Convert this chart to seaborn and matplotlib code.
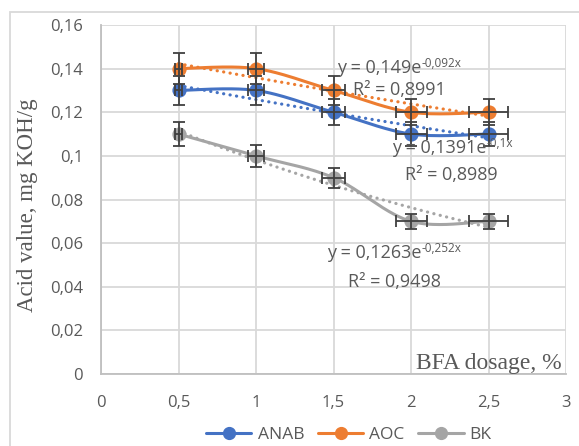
import numpy as np
import pandas as pd
import matplotlib.pyplot as plt
import seaborn as sns
from matplotlib.patches import Rectangle
from matplotlib.lines import Line2D

# data
dosage = [0.5, 1.0, 1.5, 2.0, 2.5]
anab = [0.13, 0.13, 0.12, 0.11, 0.11]
aoc = [0.14, 0.14, 0.13, 0.12, 0.12]
bk = [0.11, 0.10, 0.09, 0.07, 0.07]
names = ['ANAB', 'AOC', 'BK']
colors = ['#4472C4', '#ED7D31', '#A5A5A5']
err_pct = 0.05  # 5% error bars, both directions

eq_main = ['y = 0,1391e', 'y = 0,149e', 'y = 0,1263e']
eq_sup = ['-0,1x', '-0,092x', '-0,252x']
r2_labels = ['R² = 0,8989', 'R² = 0,8991', 'R² = 0,9498']
# left edge / baseline of the labels, data coords
eq_pos = [(1.877, 0.1013), (1.523, 0.1380), (1.458, 0.0532)]
r2_pos = [(1.961, 0.0889), (1.626, 0.1279), (1.594, 0.0399)]

x_ticks = [0, 0.5, 1, 1.5, 2, 2.5, 3]
y_ticks = [0, 0.02, 0.04, 0.06, 0.08, 0.1, 0.12, 0.14, 0.16]


def smooth(x, y, n=40):
    # Excel-like smoothed line (Catmull-Rom style bezier)
    pts = np.column_stack([x, y])
    P = np.vstack([pts[0], pts, pts[-1]])
    out = []
    t = np.linspace(0, 1, n)[:, None]
    for i in range(1, len(P) - 2):
        p0, p1, p2, p3 = P[i - 1], P[i], P[i + 1], P[i + 2]
        c1 = p1 + (p2 - p0) / 6
        c2 = p2 - (p3 - p1) / 6
        b = (1 - t) ** 3 * p1 + 3 * (1 - t) ** 2 * t * c1 + 3 * (1 - t) * t ** 2 * c2 + t ** 3 * p2
        out.append(b)
    return np.vstack(out)


def fmt(v, pos=None):
    return ('%g' % v).replace('.', ',')


sns.set_style('white')
plt.rcParams['font.family'] = ['Open Sans', 'DejaVu Sans']

fig = plt.figure(figsize=(5.79, 4.46), dpi=100)
ax = fig.add_axes([101 / 579, 1 - 374 / 446, (566 - 101) / 579, (374 - 25) / 446])

txt_col = '#595959'
x = np.array(dosage)
for k, (vals, name, col) in enumerate(zip([anab, aoc, bk], names, colors)):
    y = np.array(vals)
    sm = smooth(x, y)
    sm_df = pd.DataFrame({'x': sm[:, 0], 'y': sm[:, 1]})
    sns.lineplot(data=sm_df, x='x', y='y', sort=False, color=col, lw=2.2, ax=ax, zorder=3)

    # exponential trend line (dotted)
    b, lna = np.polyfit(x, np.log(y), 1)
    tx = np.linspace(x.min(), x.max(), 100)
    tr_df = pd.DataFrame({'x': tx, 'y': np.exp(lna) * np.exp(b * tx)})
    sns.lineplot(data=tr_df, x='x', y='y', color=col, lw=2.3, ax=ax, zorder=2,
                 linestyle=(0, (0.05, 2.0)), dash_capstyle='round')

    pt_df = pd.DataFrame({'x': x, 'y': y})
    sns.scatterplot(data=pt_df, x='x', y='y', color=col, s=105, edgecolor=col,
                    linewidth=0, ax=ax, zorder=4)
    ax.errorbar(x, y, xerr=x * err_pct, yerr=y * err_pct, fmt='none',
                ecolor='#404040', elinewidth=1.3, capsize=4.5, capthick=1.3, zorder=5)

    # trendline equation with a small superscript, and R²
    main = ax.text(eq_pos[k][0], eq_pos[k][1], eq_main[k], ha='left', va='baseline',
                   fontsize=13, color=txt_col, zorder=6)
    ax.annotate(eq_sup[k], xy=(1, 0.5), xycoords=main, xytext=(0.3, 1),
                textcoords='offset points', ha='left', va='baseline',
                fontsize=8.5, color=txt_col, zorder=6)
    ax.text(r2_pos[k][0], r2_pos[k][1], r2_labels[k], ha='left', va='baseline',
            fontsize=13, color=txt_col, zorder=6)

ax.set_xlim(0, 3)
ax.set_ylim(0, 0.16)
ax.set_xticks(x_ticks)
ax.set_yticks(y_ticks)
ax.xaxis.set_major_formatter(plt.FuncFormatter(fmt))
ax.yaxis.set_major_formatter(plt.FuncFormatter(fmt))
ax.grid(True, color='#d9d9d9', lw=1.3)
ax.set_axisbelow(True)
for s in ['top', 'right']:
    ax.spines[s].set_visible(False)
for s in ['left', 'bottom']:
    ax.spines[s].set_color('#bfbfbf')
    ax.spines[s].set_linewidth(1.3)
ax.tick_params(axis='both', colors='#bfbfbf', length=5, width=1.3, labelsize=12,
               labelcolor=txt_col)
ax.tick_params(axis='x', pad=10)
ax.tick_params(axis='y', pad=8)
ax.set_xlabel('')
ax.set_ylabel('')
ax.text(-0.159, 0.484, 'Acid value, mg KOH/g', family='Liberation Serif', fontsize=16.5,
        color=txt_col, rotation=90, ha='center', va='center', transform=ax.transAxes)
ax.text(2.97, 0.0048, 'BFA dosage, %', family='Liberation Serif', fontsize=17,
        color=txt_col, ha='right', va='center')

handles = [Line2D([0], [0], color=c, lw=2.2, marker='o', markersize=8.5) for c in colors]
fig.legend(handles, names, loc='center', bbox_to_anchor=(349 / 579, 1 - 435 / 446), ncol=3,
           frameon=False, fontsize=12.5, labelcolor=txt_col, handlelength=2.6,
           handletextpad=0.35, columnspacing=0.8)

fig.patches.append(Rectangle((10 / 579, -0.1), 1.1, 1 - 12 / 446 + 0.1,
                             transform=fig.transFigure, fill=False,
                             edgecolor='#d9d9d9', lw=1.3))

fig.savefig('out.png', dpi=100, facecolor='white')
